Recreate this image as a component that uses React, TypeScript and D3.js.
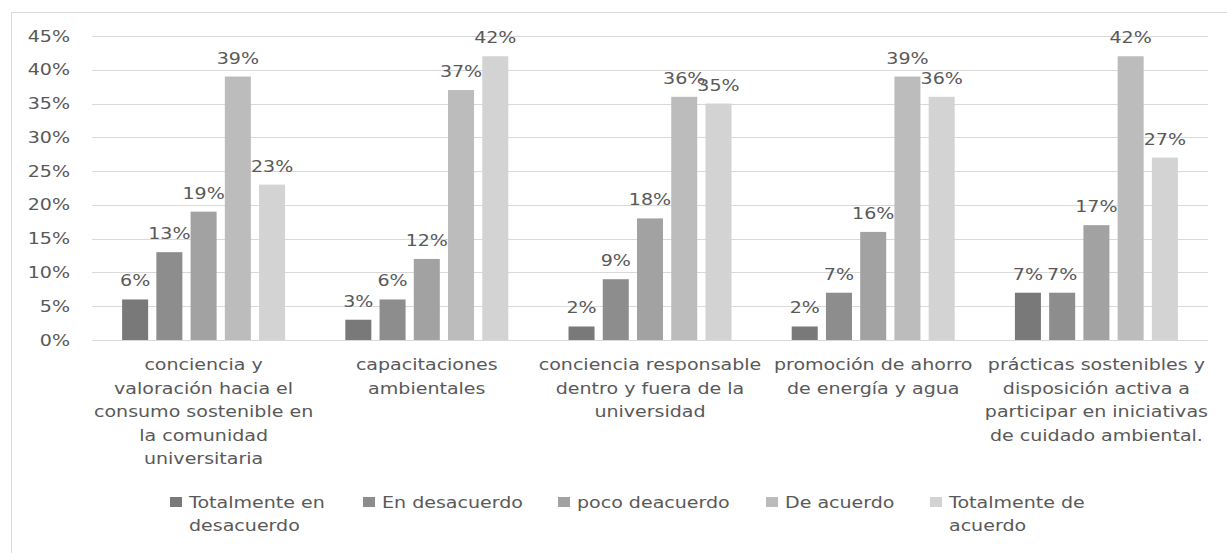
import * as d3 from 'd3'

const categories = [
  ['conciencia y', 'valoración hacia el', 'consumo sostenible en', 'la comunidad', 'universitaria'],
  ['capacitaciones', 'ambientales'],
  ['conciencia responsable', 'dentro y fuera de la', 'universidad'],
  ['promoción de ahorro', 'de energía y agua'],
  ['prácticas sostenibles y', 'disposición activa a', 'participar en iniciativas', 'de cuidado ambiental.'],
]

const seriesNames = [
  'Totalmente en desacuerdo',
  'En desacuerdo',
  'poco deacuerdo',
  'De acuerdo',
  'Totalmente de acuerdo',
]
const legendLines = [['Totalmente en', 'desacuerdo'], ['En desacuerdo'], ['poco deacuerdo'], ['De acuerdo'], ['Totalmente de', 'acuerdo']]

const totDesacuerdo = [6, 3, 2, 2, 7]
const enDesacuerdo = [13, 6, 9, 7, 7]
const pocoDeacuerdo = [19, 12, 18, 16, 17]
const deAcuerdo = [39, 37, 36, 39, 42]
const totAcuerdo = [23, 42, 35, 36, 27]
const seriesValues = [totDesacuerdo, enDesacuerdo, pocoDeacuerdo, deAcuerdo, totAcuerdo]

const yTicks = [0, 5, 10, 15, 20, 25, 30, 35, 40, 45]

const colors = ['#797979', '#8d8d8d', '#a2a2a2', '#bcbcbc', '#d3d3d3']
const legendX = [170, 363, 558, 766, 930]

const W = 1227
const H = 553
const SX = 1.27
const FONT = 'DejaVu Sans'
const TXT = '#595959'

function SText({ x, y, anchor = 'start', size = 15, fill = TXT, children }: any) {
  return (
    <g transform={`translate(${x},${y}) scale(${SX},1)`}>
      <text textAnchor={anchor} fontFamily={FONT} fontSize={size} fill={fill}>
        {children}
      </text>
    </g>
  )
}

export default function App() {
  const left = 92
  const right = 1208
  const top = 36
  const bottom = 340

  const ids = categories.map((_, i) => String(i))
  const x0 = d3.scaleBand<string>().domain(ids).range([left, right]).paddingInner(0.233).paddingOuter(0.1165)
  const x1 = d3
    .scaleBand<string>()
    .domain(seriesNames)
    .range([0, x0.bandwidth()])
    .paddingInner(0.24)
    .paddingOuter(0.12)
  const y = d3.scaleLinear().domain([0, 45]).range([bottom, top])
  const step = (right - left) / categories.length

  return (
    <svg width={W} height={H} style={{ position: 'absolute', left: 0, top: 0, background: '#fff' }}>
      <rect x={11.5} y={12.5} width={W + 20} height={H + 20} fill="#fff" stroke="#d9d9d9" />

      {yTicks.map((t) => (
        <g key={t}>
          <line x1={left} x2={right} y1={Math.round(y(t)) + 0.5} y2={Math.round(y(t)) + 0.5} stroke="#d9d9d9" />
          <SText x={70} y={y(t) + 5.5} anchor="end">
            {`${t}%`}
          </SText>
        </g>
      ))}

      {seriesNames.map((s, si) =>
        seriesValues[si].map((v, ci) => {
          const bx = (x0(String(ci)) || 0) + (x1(s) || 0)
          return (
            <g key={s + ci}>
              <rect x={bx} y={y(v)} width={x1.bandwidth()} height={bottom - y(v)} fill={colors[si]} />
              <SText x={bx + x1.bandwidth() / 2} y={y(v) - 13} anchor="middle">
                {`${v}%`}
              </SText>
            </g>
          )
        })
      )}

      {categories.map((lines, ci) => {
        const cx = left + step * (ci + 0.5)
        return (
          <g key={ci}>
            {lines.map((ln, li) => (
              <SText key={li} x={cx} y={370 + li * 23.5} anchor="middle">
                {ln}
              </SText>
            ))}
          </g>
        )
      })}

      {seriesNames.map((s, si) => (
        <g key={s}>
          <rect x={legendX[si]} y={497} width={12} height={10} fill={colors[si]} />
          {legendLines[si].map((ln, li) => (
            <SText key={li} x={legendX[si] + 19} y={507.5 + li * 23} anchor="start">
              {ln}
            </SText>
          ))}
        </g>
      ))}
    </svg>
  )
}
